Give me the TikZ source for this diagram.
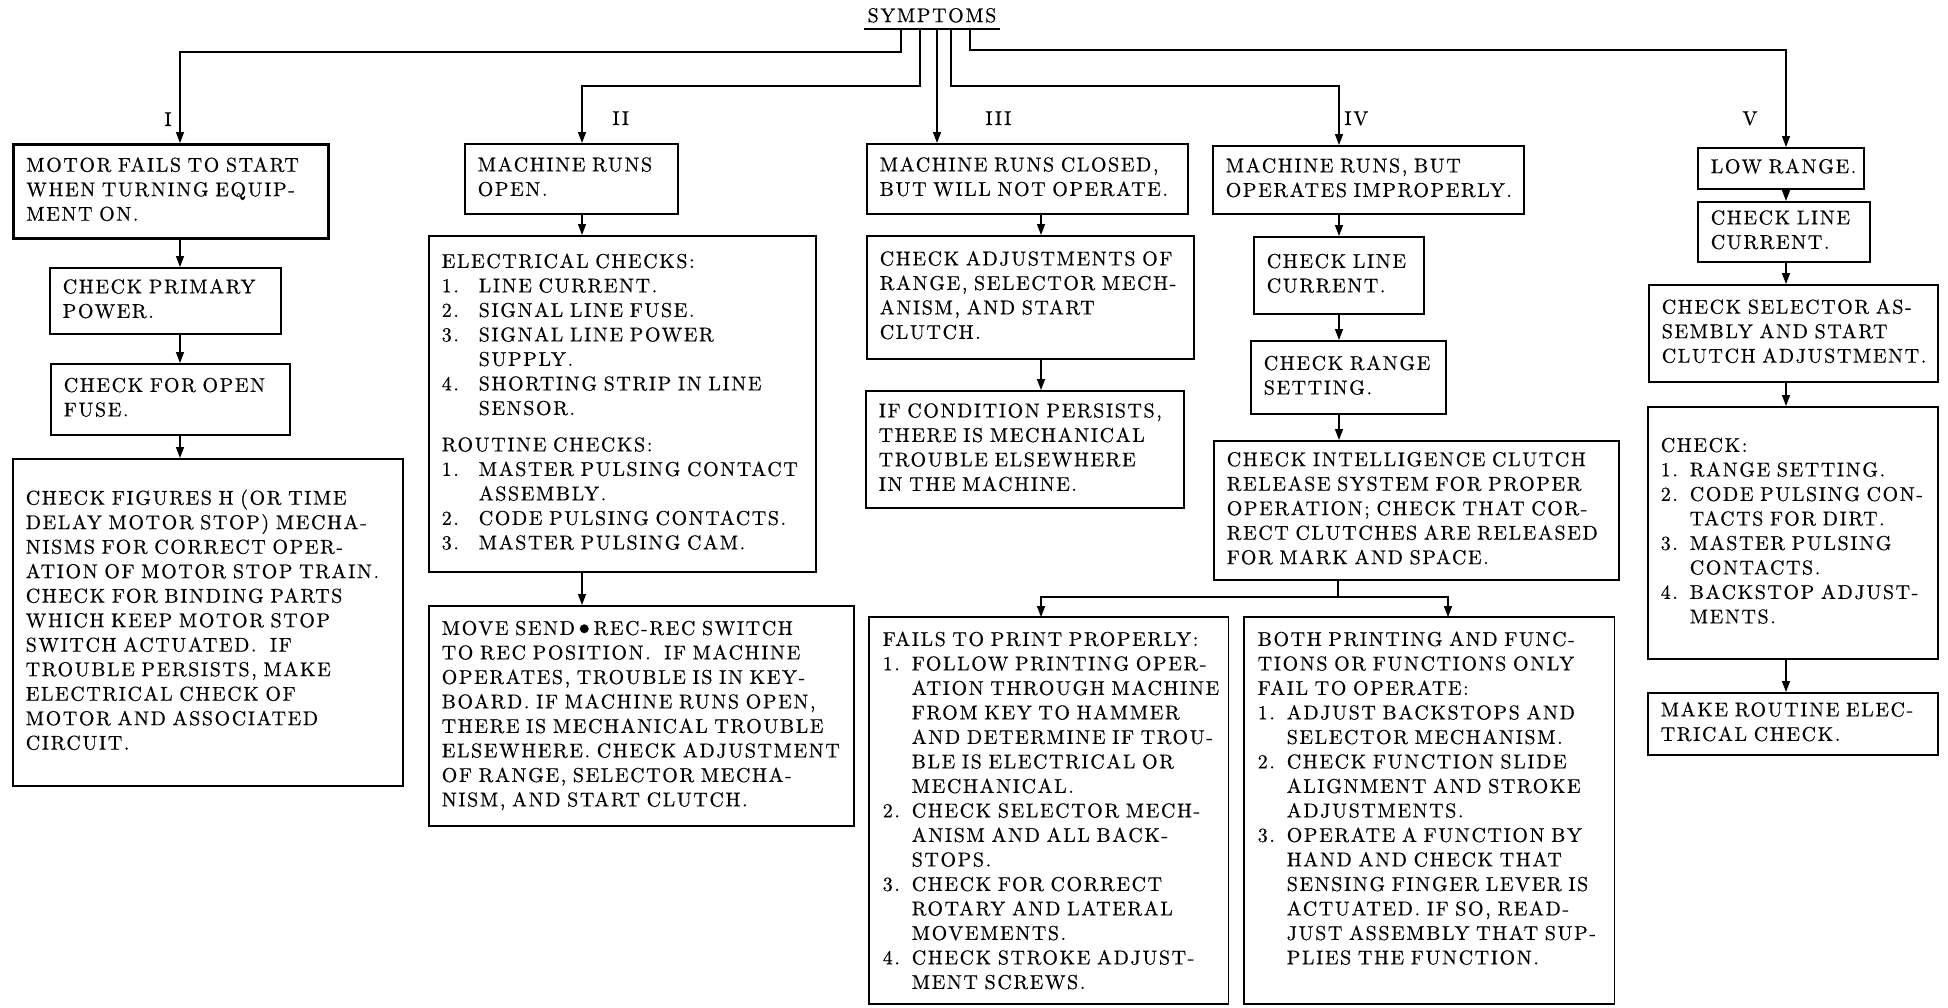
\documentclass[tikz,border=0pt]{standalone}
\usepackage{fontspec}
\setmainfont{lmroman10-regular}[Extension=.otf, LetterSpace=8, FakeBold=0.5]
\usetikzlibrary{arrows.meta}

\newcommand{\boxfont}{\fontsize{10pt}{12.25pt}\selectfont}
\newcommand{\rows}[1]{\begin{tabular}{@{}l@{}}#1\end{tabular}}
\newcommand{\itemno}[2][14.5pt]{\makebox[#1][l]{#2}}
\newcommand{\ind}[1][14.5pt]{\hspace*{#1}}
\newcommand{\sendrec}{\hspace{-1.2pt}\raisebox{-0.4pt}{\scalebox{1.5}{\textbullet}}\hspace{-1.2pt}}

\tikzset{
  tbox/.style={draw, line width=0.75pt, anchor=north west, inner xsep=6.5pt, inner ysep=1pt, align=left, font=\boxfont},
  arr/.style={line width=0.7pt, -{Triangle[length=5.5pt,width=4pt]}},
  lab/.style={font=\boxfont, inner sep=0pt},
}

\begin{document}
\begin{tikzpicture}[x=0.5pt,y=-0.5pt]
\useasboundingbox (0,0) rectangle (1948,1007);

% columns
\coordinate (xI) at (180,0);
\coordinate (xII) at (582,0);
\coordinate (xIII) at (937,0);
\coordinate (xIIIb) at (1041,0);
\coordinate (xIV) at (1339,0);
\coordinate (xV) at (1786,0);
\coordinate (bottom) at (0,1004);

% heading
\node[lab, anchor=south, minimum width=67.5pt, inner ysep=3pt] (sym) at (932,29) {SYMPTOMS};
\draw[line width=0.75pt] (sym.south west) -- (sym.south east);

% I
\node[tbox, line width=1.3pt, text width=144.5pt, minimum height=47pt] (A1) at (12,143)
  {\rows{MOTOR FAILS TO START\\WHEN TURNING EQUIP-\\MENT ON.}};
\node[tbox, text width=102.5pt, minimum height=33pt] (A2) at (49,267)
  {\rows{CHECK PRIMARY\\POWER.}};
\node[tbox, text width=106.5pt, minimum height=35.5pt] (A3) at (50,363)
  {\rows{CHECK FOR OPEN\\FUSE.}};
\node[tbox, text width=182pt, minimum height=163.5pt] (A4) at (12,458)
  {\rows{CHECK FIGURES H (OR TIME\\DELAY MOTOR STOP) MECHA-\\NISMS FOR CORRECT OPER-\\ATION OF MOTOR STOP TRAIN.\\CHECK FOR BINDING PARTS\\WHICH KEEP MOTOR STOP\\SWITCH ACTUATED.\ \ IF\\TROUBLE PERSISTS, MAKE\\ELECTRICAL CHECK OF\\MOTOR AND ASSOCIATED\\CIRCUIT.}};

% II
\node[tbox, text width=93.5pt, minimum height=35pt] (B1) at (464,143)
  {\rows{MACHINE RUNS\\OPEN.}};
\node[tbox, text width=180.5pt, minimum height=168pt] (B2) at (428,235)
  {\rows{ELECTRICAL CHECKS:\\
  \itemno[18.5pt]{1.}LINE CURRENT.\\
  \itemno[18.5pt]{2.}SIGNAL LINE FUSE.\\
  \itemno[18.5pt]{3.}SIGNAL LINE POWER\\
  \ind[18.5pt]SUPPLY.\\
  \itemno[18.5pt]{4.}SHORTING STRIP IN LINE\\
  \ind[18.5pt]SENSOR.\\[6pt]
  ROUTINE CHECKS:\\
  \itemno[18.5pt]{1.}MASTER PULSING CONTACT\\
  \ind[18.5pt]ASSEMBLY.\\
  \itemno[18.5pt]{2.}CODE PULSING CONTACTS.\\
  \itemno[18.5pt]{3.}MASTER PULSING CAM.}};
\node[tbox, text width=199.5pt, minimum height=110pt] (B3) at (428,605)
  {\rows{MOVE SEND\sendrec REC-REC SWITCH\\TO REC POSITION.\ \ IF MACHINE\\OPERATES, TROUBLE IS IN KEY-\\BOARD. IF MACHINE RUNS OPEN,\\THERE IS MECHANICAL TROUBLE\\ELSEWHERE. CHECK ADJUSTMENT\\OF RANGE, SELECTOR MECHA-\\NISM, AND START CLUTCH.}};

% III
\node[tbox, text width=147.5pt, minimum height=35pt] (C1) at (866,143)
  {\rows{MACHINE RUNS CLOSED,\\BUT WILL NOT OPERATE.}};
\node[tbox, text width=150.5pt, minimum height=61.5pt] (C2) at (866,235)
  {\rows{CHECK ADJUSTMENTS OF\\RANGE, SELECTOR MECH-\\ANISM, AND START\\CLUTCH.}};
\node[tbox, text width=146pt, minimum height=58.5pt] (C3) at (865,390)
  {\rows{IF CONDITION PERSISTS,\\THERE IS MECHANICAL\\TROUBLE ELSEWHERE\\IN THE MACHINE.}};

% IV
\node[tbox, text width=142.5pt, minimum height=34pt] (D1) at (1212,145)
  {\rows{MACHINE RUNS, BUT\\OPERATES IMPROPERLY.}};
\node[tbox, text width=72pt, minimum height=38.5pt] (D2) at (1253,236)
  {\rows{CHECK LINE\\CURRENT.}};
\node[tbox, text width=84.5pt, minimum height=36.5pt] (D3) at (1250,340)
  {\rows{CHECK RANGE\\SETTING.}};
\node[tbox, text width=189.5pt, minimum height=69.5pt] (D4) at (1213,440)
  {\rows{CHECK INTELLIGENCE CLUTCH\\RELEASE SYSTEM FOR PROPER\\OPERATION; CHECK THAT COR-\\RECT CLUTCHES ARE RELEASED\\FOR MARK AND SPACE.}};
\node[tbox, draw=none, text width=166pt, inner ysep=5.5pt] (E1) at (869,617)
  {\rows{FAILS TO PRINT PROPERLY:\\
  \itemno{1.}FOLLOW PRINTING OPER-\\
  \ind ATION THROUGH MACHINE\\
  \ind FROM KEY TO HAMMER\\
  \ind AND DETERMINE IF TROU-\\
  \ind BLE IS ELECTRICAL OR\\
  \ind MECHANICAL.\\
  \itemno{2.}CHECK SELECTOR MECH-\\
  \ind ANISM AND ALL BACK-\\
  \ind STOPS.\\
  \itemno{3.}CHECK FOR CORRECT\\
  \ind ROTARY AND LATERAL\\
  \ind MOVEMENTS.\\
  \itemno{4.}CHECK STROKE ADJUST-\\
  \ind MENT SCREWS.}};
\draw[line width=0.75pt] (E1.north west) rectangle (E1.north east |- bottom);
\node[tbox, draw=none, text width=171.5pt, inner ysep=5.5pt] (E2) at (1244,617)
  {\rows{BOTH PRINTING AND FUNC-\\TIONS OR FUNCTIONS ONLY\\FAIL TO OPERATE:\\
  \itemno{1.}ADJUST BACKSTOPS AND\\
  \ind SELECTOR MECHANISM.\\
  \itemno{2.}CHECK FUNCTION SLIDE\\
  \ind ALIGNMENT AND STROKE\\
  \ind ADJUSTMENTS.\\
  \itemno{3.}OPERATE A FUNCTION BY\\
  \ind HAND AND CHECK THAT\\
  \ind SENSING FINGER LEVER IS\\
  \ind ACTUATED. IF SO, READ-\\
  \ind JUST ASSEMBLY THAT SUP-\\
  \ind PLIES THE FUNCTION.}};
\draw[line width=0.75pt] (E2.north west) rectangle (E2.north east |- bottom);

% V
\node[tbox, text width=70pt, minimum height=20.5pt] (F1) at (1697,147)
  {\rows{LOW RANGE.}};
\node[tbox, text width=73pt, minimum height=30pt] (F2) at (1697,201)
  {\rows{CHECK LINE\\CURRENT.}};
\node[tbox, text width=131.5pt, minimum height=48.5pt] (F3) at (1648,284)
  {\rows{CHECK SELECTOR AS-\\SEMBLY AND START\\CLUTCH ADJUSTMENT.}};
\node[tbox, text width=132pt, minimum height=126pt] (F4) at (1647,406)
  {\rows{CHECK:\\
  \itemno{1.}RANGE SETTING.\\
  \itemno{2.}CODE PULSING CON-\\
  \ind TACTS FOR DIRT.\\
  \itemno{3.}MASTER PULSING\\
  \ind CONTACTS.\\
  \itemno{4.}BACKSTOP ADJUST-\\
  \ind MENTS.}};
\node[tbox, text width=132pt, minimum height=31pt] (F5) at (1647,692)
  {\rows{MAKE ROUTINE ELEC-\\TRICAL CHECK.}};

% labels
\node[lab, anchor=base east] (lI) at (172,126) {I};
\node[lab, anchor=base west] (lII) at (612,125) {II};
\node[lab, anchor=base west] (lIII) at (985,125) {III};
\node[lab, anchor=base west] (lIV) at (1344,125) {IV};
\node[lab, anchor=base west] (lV) at (1742,125) {V};

% feeds from the heading
\coordinate (bI) at (180,52);
\coordinate (bII) at (582,86);
\coordinate (bIV) at (1339,86);
\coordinate (bV) at (1786,50);
\draw[arr] (sym.south -| 901,0) |- (bI) -- (bI |- A1.north);
\draw[arr] (sym.south -| 920,0) |- (bII) -- (bII |- B1.north);
\draw[arr] (sym.south -| xIII) -- (xIII |- C1.north);
\draw[arr] (sym.south -| 951,0) |- (bIV) -- (bIV |- D1.north);
\draw[arr] (sym.south -| 970,0) |- (bV) -- (bV |- F1.north);

% chains
\draw[arr] (A1.south -| xI) -- (A2.north -| xI);
\draw[arr] (A2.south -| xI) -- (A3.north -| xI);
\draw[arr] (A3.south -| xI) -- (A4.north -| xI);
\draw[arr] (B1.south -| xII) -- (B2.north -| xII);
\draw[arr] (B2.south -| xII) -- (B3.north -| xII);
\draw[arr] (C1.south -| xIIIb) -- (C2.north -| xIIIb);
\draw[arr] (C2.south -| xIIIb) -- (C3.north -| xIIIb);
\draw[arr] (D1.south -| xIV) -- (D2.north -| xIV);
\draw[arr] (D2.south -| xIV) -- (D3.north -| xIV);
\draw[arr] (D3.south -| xIV) -- (D4.north -| xIV);
\coordinate (split) at (1338,597);
\draw[line width=0.7pt] (D4.south -| split) -- (split);
\draw[arr] (split) -| (E1.north -| xIIIb);
\draw[arr] (split) -| (E2.north -| 1448,0);
\draw[arr] (F1.south -| xV) -- (F2.north -| xV);
\draw[arr] (F2.south -| xV) -- (F3.north -| xV);
\draw[arr] (F3.south -| xV) -- (F4.north -| xV);
\draw[arr] (F4.south -| xV) -- (F5.north -| xV);
\end{tikzpicture}
\end{document}
